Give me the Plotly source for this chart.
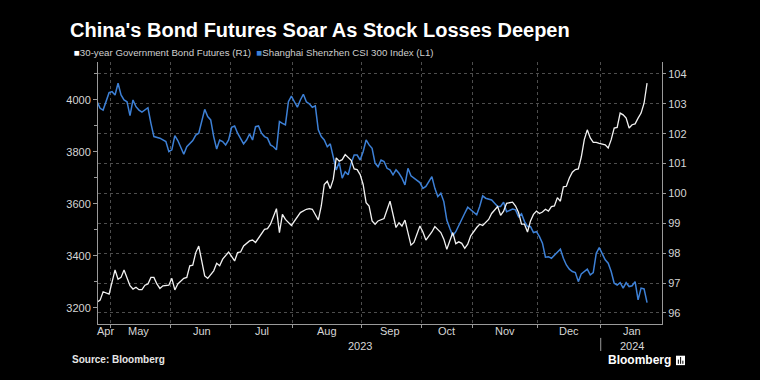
import plotly.graph_objects as go

# ---------------- data ----------------
csi_dates = [
    "2023-04-24", "2023-04-25", "2023-04-26", "2023-04-28", "2023-05-04", "2023-05-05", "2023-05-08",
    "2023-05-09", "2023-05-10", "2023-05-11", "2023-05-12", "2023-05-15", "2023-05-16", "2023-05-17",
    "2023-05-18", "2023-05-22", "2023-05-23", "2023-05-24", "2023-05-26", "2023-05-29", "2023-05-30",
    "2023-05-31", "2023-06-01", "2023-06-02", "2023-06-05", "2023-06-07", "2023-06-08", "2023-06-12",
    "2023-06-13", "2023-06-14", "2023-06-15", "2023-06-16", "2023-06-19", "2023-06-20", "2023-06-21",
    "2023-06-26", "2023-06-27", "2023-06-28", "2023-06-29", "2023-06-30", "2023-07-03", "2023-07-04",
    "2023-07-05", "2023-07-07", "2023-07-10", "2023-07-11", "2023-07-12", "2023-07-13", "2023-07-14",
    "2023-07-17", "2023-07-18", "2023-07-19", "2023-07-20", "2023-07-21", "2023-07-24", "2023-07-25",
    "2023-07-26", "2023-07-27", "2023-07-28", "2023-07-31", "2023-08-01", "2023-08-02", "2023-08-03",
    "2023-08-04", "2023-08-07", "2023-08-08", "2023-08-09", "2023-08-10", "2023-08-11", "2023-08-14",
    "2023-08-15", "2023-08-16", "2023-08-17", "2023-08-18", "2023-08-21", "2023-08-22", "2023-08-23",
    "2023-08-24", "2023-08-25", "2023-08-28", "2023-08-29", "2023-08-30", "2023-08-31", "2023-09-01",
    "2023-09-04", "2023-09-05", "2023-09-06", "2023-09-07", "2023-09-08", "2023-09-11", "2023-09-12",
    "2023-09-13", "2023-09-14", "2023-09-15", "2023-09-18", "2023-09-19", "2023-09-20", "2023-09-21",
    "2023-09-22", "2023-09-25", "2023-09-26", "2023-09-27", "2023-09-28", "2023-10-09", "2023-10-10",
    "2023-10-12", "2023-10-13", "2023-10-16", "2023-10-17", "2023-10-18", "2023-10-19", "2023-10-20",
    "2023-10-23", "2023-10-24", "2023-10-25", "2023-10-27", "2023-10-30", "2023-10-31", "2023-11-02",
    "2023-11-03", "2023-11-06", "2023-11-07", "2023-11-09", "2023-11-10", "2023-11-13", "2023-11-14",
    "2023-11-15", "2023-11-16", "2023-11-20", "2023-11-21", "2023-11-22", "2023-11-23", "2023-11-24",
    "2023-11-27", "2023-11-28", "2023-11-29", "2023-11-30", "2023-12-01", "2023-12-04", "2023-12-05",
    "2023-12-06", "2023-12-07", "2023-12-08", "2023-12-12", "2023-12-13", "2023-12-14", "2023-12-15",
    "2023-12-18", "2023-12-19", "2023-12-20", "2023-12-21", "2023-12-22", "2023-12-25", "2023-12-26",
    "2023-12-27", "2023-12-28", "2023-12-29", "2024-01-02", "2024-01-03", "2024-01-04", "2024-01-05",
    "2024-01-08", "2024-01-09", "2024-01-10", "2024-01-11", "2024-01-12", "2024-01-15", "2024-01-16",
    "2024-01-17", "2024-01-18", "2024-01-19", "2024-01-22",
]
csi_values = [
    3993, 3968, 3961, 4028, 4032, 4019, 4064,
    4019, 4000, 3993, 3940, 4000, 3974, 3961,
    3953, 3970, 3910, 3859, 3853, 3846, 3840,
    3801, 3808, 3863, 3844, 3791, 3820, 3844,
    3865, 3872, 3923, 3964, 3936, 3923, 3859,
    3811, 3846, 3840, 3827, 3846, 3895, 3900,
    3872, 3831, 3846, 3869, 3846, 3897, 3900,
    3872, 3859, 3853, 3827, 3820, 3808, 3917,
    3910, 3904, 3993, 4015, 3993, 3972, 4000,
    4022, 3993, 3985, 3972, 3977, 3885, 3859,
    3846, 3820, 3831, 3782, 3731, 3759, 3699,
    3724, 3712, 3757, 3788, 3788, 3769, 3801,
    3846, 3827, 3814, 3757, 3743, 3769, 3763,
    3737, 3731, 3712, 3731, 3718, 3699, 3673,
    3737, 3708, 3699, 3692, 3682, 3660, 3667,
    3705, 3660, 3628, 3641, 3609, 3538, 3506,
    3477, 3493, 3519, 3564, 3587, 3577, 3558,
    3590, 3631, 3622, 3615, 3603, 3590, 3590,
    3607, 3570, 3580, 3577, 3551, 3562, 3532,
    3513, 3513, 3490, 3493, 3474, 3449, 3395,
    3397, 3391, 3404, 3426, 3391, 3365, 3349,
    3340, 3336, 3301, 3331, 3340, 3349, 3327,
    3336, 3410, 3432, 3385, 3372, 3340, 3295,
    3288, 3297, 3276, 3297, 3282, 3285, 3301,
    3231, 3276, 3273, 3220,
]

bond_dates = [
    "2023-04-24", "2023-04-25", "2023-04-26", "2023-04-28", "2023-05-05", "2023-05-08", "2023-05-09",
    "2023-05-10", "2023-05-12", "2023-05-15", "2023-05-16", "2023-05-17", "2023-05-18", "2023-05-19",
    "2023-05-22", "2023-05-23", "2023-05-24", "2023-05-25", "2023-05-26", "2023-05-29", "2023-05-31",
    "2023-06-01", "2023-06-02", "2023-06-05", "2023-06-07", "2023-06-08", "2023-06-09", "2023-06-12",
    "2023-06-13", "2023-06-14", "2023-06-15", "2023-06-16", "2023-06-19", "2023-06-21", "2023-06-26",
    "2023-06-27", "2023-06-28", "2023-06-30", "2023-07-04", "2023-07-05", "2023-07-06", "2023-07-07",
    "2023-07-11", "2023-07-12", "2023-07-13", "2023-07-17", "2023-07-18", "2023-07-19", "2023-07-20",
    "2023-07-24", "2023-07-25", "2023-07-26", "2023-07-27", "2023-07-31", "2023-08-01", "2023-08-03",
    "2023-08-07", "2023-08-08", "2023-08-09", "2023-08-11", "2023-08-14", "2023-08-15", "2023-08-16",
    "2023-08-17", "2023-08-18", "2023-08-21", "2023-08-22", "2023-08-23", "2023-08-24", "2023-08-28",
    "2023-08-29", "2023-08-30", "2023-08-31", "2023-09-01", "2023-09-04", "2023-09-05", "2023-09-06",
    "2023-09-07", "2023-09-08", "2023-09-11", "2023-09-12", "2023-09-14", "2023-09-15", "2023-09-18",
    "2023-09-19", "2023-09-20", "2023-09-21", "2023-09-22", "2023-09-25", "2023-09-26", "2023-09-27",
    "2023-09-28", "2023-10-09", "2023-10-10", "2023-10-12", "2023-10-13", "2023-10-17", "2023-10-18",
    "2023-10-19", "2023-10-20", "2023-10-23", "2023-10-24", "2023-10-25", "2023-10-26", "2023-10-27",
    "2023-10-30", "2023-10-31", "2023-11-02", "2023-11-03", "2023-11-06", "2023-11-08", "2023-11-09",
    "2023-11-13", "2023-11-14", "2023-11-15", "2023-11-16", "2023-11-20", "2023-11-21", "2023-11-22",
    "2023-11-23", "2023-11-24", "2023-11-27", "2023-11-28", "2023-11-29", "2023-11-30", "2023-12-01",
    "2023-12-04", "2023-12-05", "2023-12-06", "2023-12-07", "2023-12-08", "2023-12-11", "2023-12-12",
    "2023-12-13", "2023-12-14", "2023-12-15", "2023-12-18", "2023-12-19", "2023-12-20", "2023-12-21",
    "2023-12-22", "2023-12-25", "2023-12-26", "2023-12-27", "2023-12-28", "2023-12-29", "2024-01-02",
    "2024-01-03", "2024-01-04", "2024-01-05", "2024-01-08", "2024-01-09", "2024-01-10", "2024-01-11",
    "2024-01-12", "2024-01-15", "2024-01-16", "2024-01-17", "2024-01-18", "2024-01-19", "2024-01-22",
]
bond_values = [
    96.36, 96.43, 96.71, 96.63, 97.44, 97.13, 97.19,
    97.44, 96.91, 96.80, 96.86, 96.78, 96.78, 96.93,
    96.97, 97.19, 97.19, 96.97, 96.82, 96.91, 96.93,
    97.16, 96.77, 96.97, 97.16, 97.19, 97.58, 97.60,
    98.02, 98.24, 97.74, 97.24, 97.16, 97.41, 97.66,
    97.58, 97.80, 98.04, 97.74, 98.02, 98.04, 98.24,
    98.41, 98.44, 98.36, 98.63, 98.80, 98.82, 98.97,
    99.49, 98.69, 99.30, 99.13, 98.93, 99.08, 99.36,
    99.47, 99.49, 99.47, 99.11, 99.58, 100.30, 100.41,
    100.16, 100.47, 101.19, 101.08, 101.13, 101.30, 101.11,
    100.82, 100.80, 100.63, 100.30, 99.69, 99.58, 99.08,
    98.97, 99.08, 99.13, 99.16, 99.74, 99.24, 98.86,
    99.02, 98.91, 99.11, 98.69, 98.27, 98.36, 98.67,
    98.91, 98.71, 98.44, 98.71, 98.89, 98.69, 98.47,
    98.13, 98.44, 98.69, 98.32, 98.38, 98.33, 98.16,
    98.30, 98.58, 98.86, 98.97, 98.93, 99.13, 99.33,
    99.56, 99.27, 99.41, 99.67, 99.71, 99.58, 99.36,
    98.97, 98.97, 98.71, 99.08, 99.30, 99.41, 99.33,
    99.38, 99.47, 99.41, 99.56, 99.58, 99.86, 99.74,
    100.22, 100.24, 100.52, 100.71, 100.80, 100.82, 101.22,
    101.80, 102.13, 101.86, 101.71, 101.71, 101.68, 101.63,
    101.52, 101.80, 102.19, 102.21, 102.69, 102.63, 102.52,
    102.19, 102.30, 102.33, 102.52, 102.69, 103.02, 103.69,
]

# non-trading weekdays that the chart's axis skips
holidays = [
    "2023-05-01", "2023-05-02", "2023-05-03", "2023-06-22", "2023-06-23",
    "2023-09-29", "2023-10-02", "2023-10-03", "2023-10-04", "2023-10-05", "2023-10-06",
]

month_labels = ["Apr", "May", "Jun", "Jul", "Aug", "Sep", "Oct", "Nov", "Dec", "Jan"]
month_label_dates = ["2023-04-26 20:00", "2023-05-17", "2023-06-15", "2023-07-17",
                     "2023-08-16", "2023-09-14", "2023-10-19", "2023-11-15 12:00",
                     "2023-12-15", "2024-01-15"]
month_boundaries = ["2023-04-28 12:00", "2023-05-31 12:00", "2023-06-30 12:00",
                    "2023-07-31 12:00", "2023-08-31 12:00", "2023-09-28 12:00",
                    "2023-10-31 12:00", "2023-11-30 12:00", "2023-12-29 12:00"]
year_labels = ["2023", "2024"]
year_label_dates = ["2023-08-31", "2024-01-15"]

title_text = "China's Bond Futures Soar As Stock Losses Deepen"
bond_name = "30-year Government Bond Futures (R1)"
csi_name = "Shanghai Shenzhen CSI 300 Index (L1)"
source_text = "Source: Bloomberg"

# ---------------- styles ----------------
BLUE = "#3d80d6"
WHITE = "#f2f2f2"
AXIS = "#9a9a9a"
GRID = "#4d4d4d"
FAM = "Liberation Sans, Arial, sans-serif"
TICKFONT = dict(family=FAM, size=11, color="#d6d6d6")

fig = go.Figure()
fig.add_trace(go.Scatter(x=bond_dates, y=bond_values, mode="lines", name=bond_name,
                         line=dict(color=WHITE, width=1.3), yaxis="y2"))
fig.add_trace(go.Scatter(x=csi_dates, y=csi_values, mode="lines", name=csi_name,
                         line=dict(color=BLUE, width=1.5), yaxis="y"))

annotations = []
for lab, d in zip(month_labels, month_label_dates):
    annotations.append(dict(x=d, y=-0.0267, xref="x", yref="paper", text=lab, showarrow=False,
                            xanchor="center", yanchor="middle", borderpad=0, font=TICKFONT))
for lab, d in zip(year_labels, year_label_dates):
    annotations.append(dict(x=d, y=-0.0821, xref="x", yref="paper", text=lab, showarrow=False,
                            xanchor="center", yanchor="middle", borderpad=0, font=TICKFONT))

annotations.append(dict(x=-0.0532, y=1.122, xref="paper", yref="paper", xanchor="left", yanchor="middle",
                        showarrow=False, text="<b>" + title_text + "</b>",
                        font=dict(family=FAM, size=20, color="#ffffff")))
annotations.append(dict(x=-0.0461, y=1.038, xref="paper", yref="paper", xanchor="left", yanchor="middle",
                        showarrow=False,
                        text=("<span style='color:#ffffff'>■</span>" + bond_name + "  "
                              "<span style='color:%s'>■</span>" % BLUE + csi_name),
                        font=dict(family=FAM, size=9.7, color="#cfcfcf")))
annotations.append(dict(x=-0.0496, y=-0.134, xref="paper", yref="paper", xanchor="left", yanchor="middle",
                        showarrow=False, text="<b>" + source_text + "</b>",
                        font=dict(family=FAM, size=10, color="#e6e6e6")))
annotations.append(dict(x=0.9025, y=-0.1393, xref="paper", yref="paper", xanchor="left", yanchor="middle",
                        showarrow=False, borderpad=0, text="<b>Bloomberg</b>",
                        font=dict(family=FAM, size=12, color="#ffffff")))

shapes = [
    dict(type="line", xref="x", yref="paper", x0=month_boundaries[-1], x1=month_boundaries[-1],
         y0=-0.053, y1=-0.103, line=dict(color=AXIS, width=1)),
    dict(type="rect", xref="paper", yref="paper", x0=1.0248, x1=1.0408, y0=-0.121, y1=-0.157,
         fillcolor="#ffffff", line=dict(width=0)),
]
for i, h in enumerate([0.016, 0.026, 0.012]):
    xx = 1.0290 + i * 0.0040
    shapes.append(dict(type="line", xref="paper", yref="paper", x0=xx, x1=xx, y0=-0.152, y1=-0.152 + h,
                       line=dict(color="#000000", width=1)))

fig.update_layout(
    width=760, height=380,
    paper_bgcolor="#000000", plot_bgcolor="#000000",
    margin=dict(l=98, r=98, t=62, b=56),
    showlegend=False,
    annotations=annotations,
    shapes=shapes,
    xaxis=dict(
        type="date",
        range=["2023-04-24 07:00", "2024-01-29"],
        rangebreaks=[dict(bounds=["sat", "mon"]), dict(values=holidays)],
        tickmode="array", tickvals=month_boundaries, ticktext=[""] * len(month_boundaries),
        ticks="outside", ticklen=3, tickcolor=AXIS,
        showgrid=True, gridcolor=GRID, griddash="dot", gridwidth=1,
        showline=True, linecolor=AXIS, linewidth=1, zeroline=False,
    ),
    yaxis=dict(
        range=[3138, 4146], tickmode="linear", tick0=3200, dtick=200,
        ticks="outside", ticklen=4, tickcolor=AXIS, tickfont=TICKFONT,
        minor=dict(tick0=3100, dtick=100, ticks="outside", ticklen=3, tickcolor=AXIS, showgrid=False),
        showgrid=False, showline=True, linecolor=AXIS, linewidth=1, zeroline=False,
    ),
    yaxis2=dict(
        overlaying="y", side="right",
        range=[95.63, 104.4], tickmode="linear", tick0=96, dtick=1,
        ticks="outside", ticklen=3, tickcolor=AXIS, tickfont=TICKFONT,
        showgrid=True, gridcolor=GRID, griddash="dot", gridwidth=1,
        showline=True, linecolor=AXIS, linewidth=1, zeroline=False,
    ),
)

fig.write_html("out.html", config={"displayModeBar": False},
               post_script="document.body.style.margin='0';document.body.style.background='#000';")
